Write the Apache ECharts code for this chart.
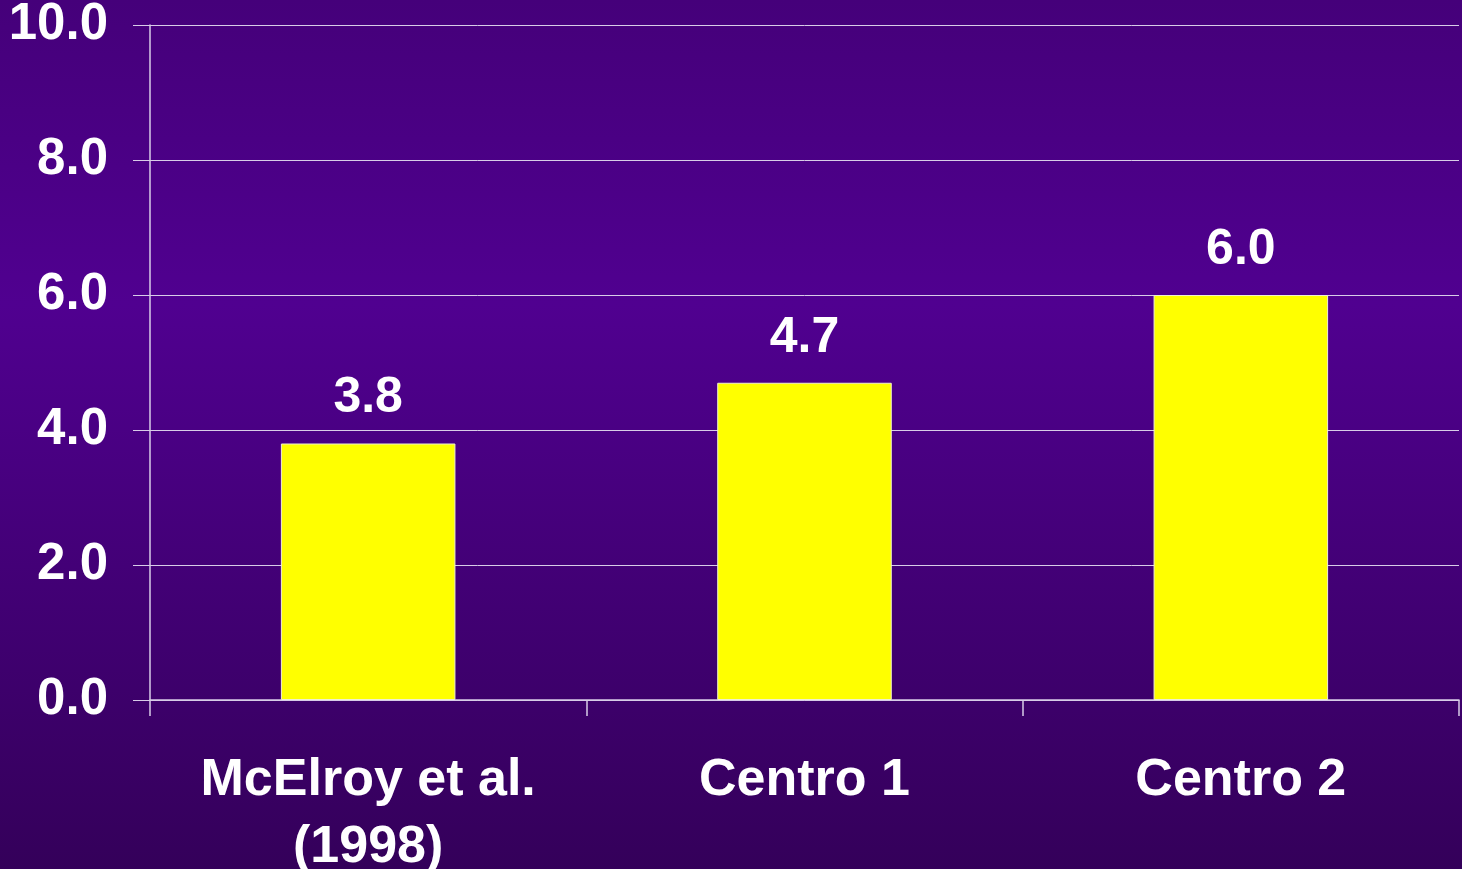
<!DOCTYPE html>
<html>
<head>
<meta charset="utf-8">
<script src="https://cdn.jsdelivr.net/npm/echarts@6/dist/echarts.min.js"></script>
<style>
html,body{margin:0;padding:0;width:1462px;height:869px;overflow:hidden;}
#chart{width:1462px;height:869px;}
</style>
</head>
<body>
<div id="chart"></div>
<script>
const categories = ['McElroy et al.\n(1998)', 'Centro 1', 'Centro 2'];
const values = [3.8, 4.7, 6.0];
const yTicks = { min: 0, max: 10, interval: 2 };

const lineColor = '#d8cce8';
const chart = echarts.init(document.getElementById('chart'));
chart.setOption({
  backgroundColor: {
    type: 'linear', x: 0, y: 0, x2: 0, y2: 1,
    colorStops: [
      { offset: 0, color: '#45007a' },
      { offset: 0.35, color: '#500090' },
      { offset: 1, color: '#34005a' }
    ]
  },
  animation: false,
  grid: { left: 150, right: 3, top: 25, bottom: 169, containLabel: false, outerBoundsMode: 'none' },
  xAxis: {
    type: 'category',
    data: categories,
    boundaryGap: true,
    axisLine: { lineStyle: { color: lineColor, width: 1.5 } },
    axisTick: { show: true, length: 16, alignWithLabel: false, lineStyle: { color: lineColor, width: 1.5 } },
    axisLabel: {
      color: '#ffffff', fontFamily: 'Liberation Sans, Arial, sans-serif', fontWeight: 'bold',
      fontSize: 52, lineHeight: 67, margin: 47, interval: 0
    }
  },
  yAxis: {
    type: 'value',
    min: yTicks.min, max: yTicks.max, interval: yTicks.interval,
    axisLine: { show: true, lineStyle: { color: lineColor, width: 1.5 } },
    axisTick: { show: true, length: 17, lineStyle: { color: lineColor, width: 1 } },
    splitLine: { show: true, lineStyle: { color: lineColor, width: 1 } },
    axisLabel: {
      color: '#ffffff', fontFamily: 'Liberation Sans, Arial, sans-serif', fontWeight: 'bold',
      fontSize: 51, margin: 42, padding: [5, 0, 0, 0],
      formatter: v => v.toFixed(1)
    }
  },
  series: [{
    type: 'bar',
    data: values,
    barWidth: '40%',
    itemStyle: { color: '#ffff00', borderColor: '#f0f0d0', borderWidth: 1 },
    label: {
      show: true, position: 'top', distance: 20,
      color: '#ffffff', fontFamily: 'Liberation Sans, Arial, sans-serif', fontWeight: 'bold',
      fontSize: 50,
      formatter: p => p.value.toFixed(1)
    }
  }]
});
</script>
</body>
</html>
